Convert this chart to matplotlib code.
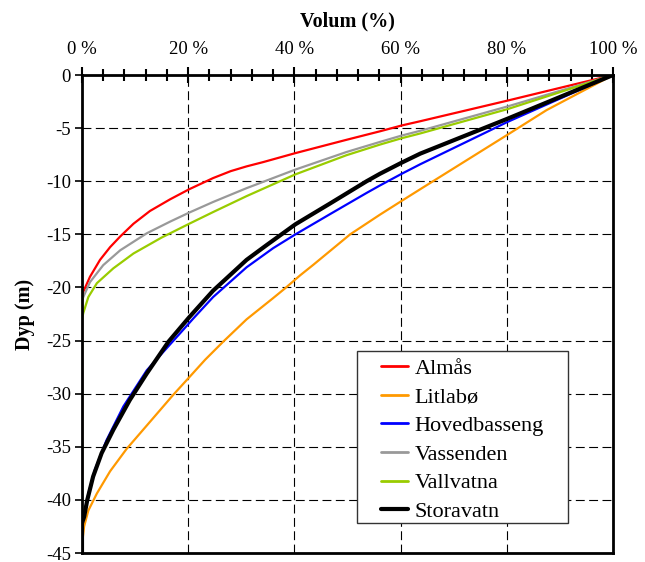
import matplotlib
matplotlib.use("Agg")
import matplotlib.pyplot as plt
from matplotlib.patches import Rectangle
from matplotlib.ticker import MultipleLocator, FuncFormatter

plt.rcParams['font.family'] = ['Liberation Serif', 'DejaVu Serif']
plt.rcParams['axes.unicode_minus'] = False

# volume above each depth (%), depth (m) for each basin
almas_vol = [0, 0, 0.25, 1.5, 3.4, 5.3, 7.2, 9.7, 12.8, 16.6, 20.2, 24.7, 28.0, 31.0,
             34.1, 40.2, 49.8, 56.1, 60.2, 63.7, 80.2, 93.8, 100]
almas_dep = [-40, -20.8, -20.4, -19.0, -17.4, -16.2, -15.2, -14.0, -12.8, -11.7, -10.75, -9.7, -9.05, -8.6,
             -8.2, -7.35, -6.1, -5.3, -4.75, -4.35, -2.4, -0.75, 0]

litlabo_vol = [0, 0.1, 0.4, 1.2, 2.8, 5.3, 8.4, 12.2, 17.2, 20.3, 23.2, 26.6, 31.0, 33.5, 36.0,
               38.2, 41.1, 43.6, 50.5, 56.1, 60.2, 63.7, 80.2, 87.5, 100]
litlabo_dep = [-44.5, -43.8, -42.5, -41.0, -39.4, -37.3, -35.2, -33.0, -30.1, -28.4, -26.8, -25.1, -23.0, -22.0, -21.0,
               -20.1, -18.85, -17.85, -15.0, -13.15, -11.85, -10.75, -5.6, -3.3, 0]

hoved_vol = [0, 0.4, 1.2, 2.4, 4.6, 7.8, 12.2, 18.5, 21.0, 24.7, 31.0, 36.0, 40.2, 46.7,
             53.6, 56.1, 60.2, 63.7, 80.2, 100]
hoved_dep = [-42, -41.3, -39.4, -37.2, -34.4, -31.2, -27.8, -24.3, -22.9, -20.9, -18.1, -16.3, -15.0, -13.1,
             -11.1, -10.4, -9.3, -8.4, -4.4, 0]

vassenden_vol = [0, 0, 0.25, 1.5, 4.0, 7.2, 12.2, 16.6, 20.2, 24.7, 31.0, 40.2, 49.8, 56.1,
                 60.2, 63.7, 80.2, 100]
vassenden_dep = [-41, -21.3, -20.9, -19.5, -17.9, -16.5, -14.9, -13.8, -12.95, -11.95, -10.65, -8.9, -7.25, -6.3,
                 -5.7, -5.25, -2.95, 0]

vallvatna_vol = [0, 0, 0.25, 1.2, 2.8, 5.9, 9.7, 15.0, 20.2, 24.7, 31.0, 40.2, 49.8, 56.1,
                 60.2, 63.7, 80.2, 100]
vallvatna_dep = [-41.5, -23.0, -22.4, -20.9, -19.6, -18.2, -16.8, -15.3, -14.0, -12.9, -11.4, -9.35, -7.55, -6.55,
                 -5.95, -5.5, -3.2, 0]

stora_vol = [0, 0, 0.4, 1.0, 2.1, 3.7, 5.9, 9.0, 12.2, 16.3, 20.2, 24.7, 31.0, 34.8, 40.2,
             46.7, 53.6, 56.1, 60.2, 63.7, 80.2, 100]
stora_dep = [-45, -42.2, -41.6, -40.0, -37.8, -35.6, -33.4, -30.6, -28.1, -25.1, -22.8, -20.3, -17.4, -16.0, -14.05,
             -12.1, -10.0, -9.3, -8.25, -7.4, -4.1, 0]

series = [
    ("Almås", almas_vol, almas_dep, "#ff0000", 1.6),
    ("Litlabø", litlabo_vol, litlabo_dep, "#ff9900", 1.6),
    ("Hovedbasseng", hoved_vol, hoved_dep, "#0000ff", 1.6),
    ("Vassenden", vassenden_vol, vassenden_dep, "#999999", 1.6),
    ("Vallvatna", vallvatna_vol, vallvatna_dep, "#99cc00", 1.6),
    ("Storavatn", stora_vol, stora_dep, "#000000", 3.0),
]

fig = plt.figure(figsize=(6.45, 5.62), dpi=100)
ax = fig.add_axes([0.1271, 0.016, 0.8233, 0.8505])

for name, vol, dep, col, lw in series:
    ax.plot(vol, dep, color=col, lw=lw, label=name,
            solid_joinstyle='round', solid_capstyle='round')

ax.set_xlim(0, 100)
ax.set_ylim(-45, 0)

ax.xaxis.set_major_locator(MultipleLocator(20))
ax.xaxis.set_minor_locator(MultipleLocator(4))
ax.yaxis.set_major_locator(MultipleLocator(5))
ax.xaxis.set_major_formatter(FuncFormatter(lambda v, p: f"{v:.0f} %"))

ax.xaxis.tick_top()
ax.xaxis.set_label_position('top')
ax.tick_params(axis='x', which='major', direction='inout', length=11, width=1.5,
               labelsize=13.5, pad=7)
ax.tick_params(axis='x', which='minor', direction='inout', length=8, width=1.5)
ax.tick_params(axis='y', which='major', direction='out', length=5, width=1.2,
               labelsize=13.5, pad=3)

for s in ax.spines.values():
    s.set_linewidth(2.0)

ax.grid(True, which='major', color='black', lw=0.8, linestyle=(0, (8, 4)))
ax.set_axisbelow(True)

ax.set_xlabel("Volum (%)", fontsize=14.5, fontweight='bold', labelpad=10)
ax.set_ylabel("Dyp (m)", fontsize=14.5, fontweight='bold', labelpad=8)

# legend box drawn separately so its size can be set exactly
box = Rectangle((0.518, 0.063), 0.397, 0.36, transform=ax.transAxes,
                facecolor='white', edgecolor='#333333', lw=1.0, zorder=4)
ax.add_patch(box)
leg = ax.legend(loc='center', bbox_to_anchor=(0.7165, 0.236), fontsize=16,
                frameon=False, borderaxespad=0, handlelength=1.2,
                labelspacing=0.36, borderpad=0, handletextpad=0.3)
leg.set_zorder(5)
for h in leg.get_lines():
    h.set_linewidth(2.0 if h.get_color() != '#000000' else 3.0)

fig.savefig("out.png", dpi=100)
